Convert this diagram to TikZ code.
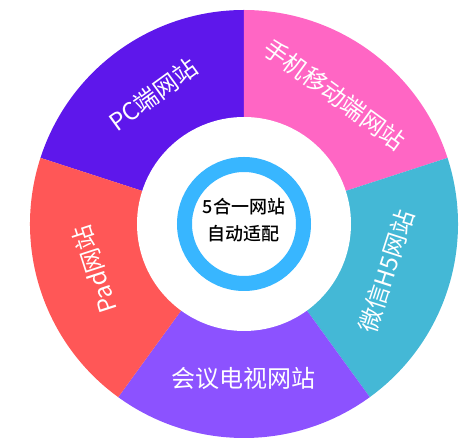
\documentclass[tikz,border=0pt]{standalone}
\usepackage{fontspec}
\newfontfamily\cjk{Noto Sans CJK SC}
\newfontfamily\cjkmed{Noto Sans CJK SC Medium}
\usepackage{xcolor}
\usetikzlibrary{positioning}
\definecolor{pcviolet}{HTML}{5E17EB}
\definecolor{mobpink}{HTML}{FF66C4}
\definecolor{wxteal}{HTML}{44B8D6}
\definecolor{tvpurple}{HTML}{8C52FF}
\definecolor{padred}{HTML}{FF5757}
\definecolor{ringblue}{HTML}{38B6FF}
\tikzset{
  seglabel/.style={
    text=white,
    font=\cjk\fontsize{24}{28}\selectfont,
    inner sep=0pt,
    anchor=center
  },
  hublabel/.style={
    text=black,
    align=center,
    font=\cjkmed\fontsize{18}{27}\selectfont,
    inner sep=0pt
  }
}

\begin{document}
\begin{tikzpicture}[x=1pt,y=1pt]
  \useasboundingbox (-244,-222) rectangle (222,224);

  % five sectors
  \foreach \a/\c in {90/pcviolet,18/mobpink,-54/wxteal,-126/tvpurple,162/padred}
    \fill[\c] (0,0) -- (\a:214) arc[start angle=\a, delta angle=72, radius=214] -- cycle;

  % hub
  \fill[white] (0,0) circle[radius=107];
  \draw[ringblue, line width=15pt] (0,0) circle[radius=59.5];

  \node[seglabel, rotate=36] (pc) at (125:158) {PC端网站};
  \node[seglabel, rotate=-36] (mobile) at (55:158) {手机移动端网站};
  \node[seglabel, rotate=72] (wechat) at (-18.5:150) {微信H5网站};
  \node[seglabel] (tv) at (-90:154) {会议电视网站};
  \node[seglabel, rotate=108] (pad) at (197:156) {Pad网站};

  \node[hublabel] (hub) at (0,4) {5合一网站\\自动适配};
\end{tikzpicture}
\end{document}
